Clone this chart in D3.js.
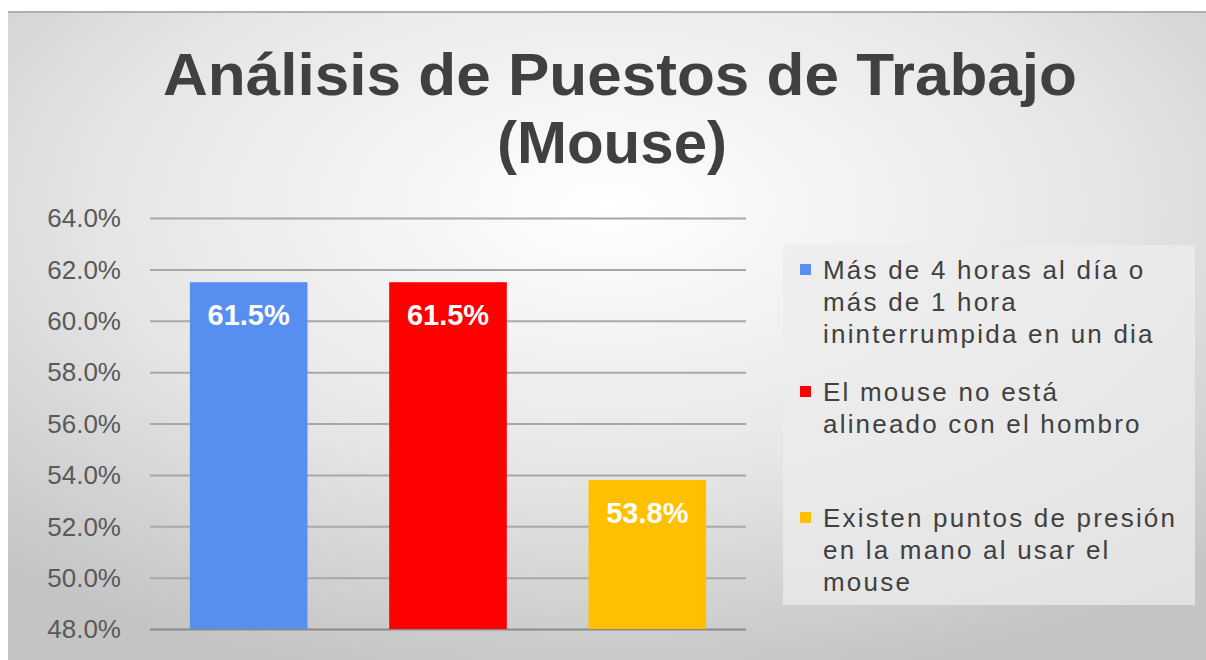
<!DOCTYPE html>
<html>
<head>
<meta charset="utf-8">
<script src="https://cdn.jsdelivr.net/npm/d3@7"></script>
<style>
  body { margin: 0; background: #fff; }
  svg { display: block; font-family: "Liberation Sans", Arial, sans-serif; }
</style>
</head>
<body>
<svg id="chart" width="1206" height="660"></svg>
<script>
const categories = ["Más de 4 horas al día o más de 1 hora ininterrumpida en un dia",
                    "El mouse no está alineado con el hombro",
                    "Existen puntos de presión en la mano al usar el mouse"];
const values = [0.615, 0.615, 0.538];
const colors = ["#568ff0", "#ff0000", "#ffc000"];
const legendLines = [
    ["Más de 4 horas al día o", "más de 1 hora", "ininterrumpida en un dia"],
    ["El mouse no está", "alineado con el hombro"],
    ["Existen puntos de presión", "en la mano al usar el", "mouse"]
];
const yTicks = [0.48, 0.50, 0.52, 0.54, 0.56, 0.58, 0.60, 0.62, 0.64];

const svg = d3.select("#chart");
const W = 1206, H = 660;

// background panel with soft radial gradient
const defs = svg.append("defs");
const grad = defs.append("radialGradient")
    .attr("id", "bg")
    .attr("cx", "50%").attr("cy", "30%").attr("r", "75%");
grad.append("stop").attr("offset", "0%").attr("stop-color", "#ffffff");
grad.append("stop").attr("offset", "55%").attr("stop-color", "#e6e6e6");
grad.append("stop").attr("offset", "100%").attr("stop-color", "#c4c4c4");

svg.append("rect")
    .attr("x", 8).attr("y", 11)
    .attr("width", W - 8).attr("height", H - 11)
    .attr("fill", "url(#bg)");
svg.append("line")
    .attr("x1", 8).attr("x2", W).attr("y1", 12).attr("y2", 12)
    .attr("stroke", "#b0b0b0").attr("stroke-width", 2);

// title
const title = svg.append("text")
    .attr("text-anchor", "middle")
    .attr("font-weight", "bold")
    .attr("font-size", 60)
    .attr("fill", "#404040");
title.append("tspan").attr("x", 620).attr("y", 95)
    .attr("textLength", 914).attr("lengthAdjust", "spacingAndGlyphs")
    .text("Análisis de Puestos de Trabajo");
title.append("tspan").attr("x", 612).attr("y", 163).text("(Mouse)");

const margin = {left: 150, right: 460, top: 218, bottom: 31};
const x = d3.scaleBand()
    .domain(d3.range(categories.length))
    .range([margin.left, W - margin.right])
    .paddingInner(0.41)
    .paddingOuter(0.2);
const y = d3.scaleLinear()
    .domain([0.48, 0.64])
    .range([H - margin.bottom, margin.top]);

// gridlines
const grid = svg.append("g")
    .attr("transform", `translate(${margin.left},0)`)
    .call(d3.axisLeft(y).tickValues(yTicks).tickSize(-(W - margin.right - margin.left)).tickFormat(""));
grid.select(".domain").remove();
grid.selectAll(".tick line")
    .attr("stroke", d => d === 0.48 ? "#8a8a8a" : "#a8a8a8")
    .attr("stroke-width", 2);

// y labels
const yAxis = svg.append("g")
    .attr("transform", "translate(121,0)")
    .call(d3.axisLeft(y).tickValues(yTicks).tickSize(0).tickPadding(0).tickFormat(d3.format(".1%")));
yAxis.select(".domain").remove();
yAxis.selectAll("text")
    .attr("font-size", 26)
    .attr("dy", "0.34em")
    .attr("font-family", "Liberation Sans, Arial, sans-serif")
    .attr("fill", "#595959");

// bars
svg.append("g").selectAll("rect")
    .data(values)
    .join("rect")
    .attr("x", (d, i) => x(i))
    .attr("width", x.bandwidth())
    .attr("y", d => y(d))
    .attr("height", d => y(0.48) - y(d))
    .attr("fill", (d, i) => colors[i]);

// value labels
svg.append("g").selectAll("text")
    .data(values)
    .join("text")
    .attr("x", (d, i) => x(i) + x.bandwidth() / 2)
    .attr("y", d => y(d) + 43)
    .attr("text-anchor", "middle")
    .attr("font-size", 29)
    .attr("font-weight", "bold")
    .attr("fill", "#ffffff")
    .text(d => d3.format(".1%")(d));

// legend
svg.append("rect")
    .attr("x", 783).attr("y", 245)
    .attr("width", 412).attr("height", 360)
    .attr("fill", "#ececec").attr("opacity", 0.75);

const legendTop = [279, 401, 527];
const lg = svg.append("g").selectAll("g")
    .data(legendLines)
    .join("g");
lg.append("rect")
    .attr("x", 800)
    .attr("y", (d, i) => legendTop[i] - 15)
    .attr("width", 11).attr("height", 11)
    .attr("fill", (d, i) => colors[i]);
lg.append("text")
    .attr("font-size", 26)
    .attr("letter-spacing", 2.2)
    .attr("fill", "#404040")
    .each(function (d, i) {
        d3.select(this).selectAll("tspan")
            .data(d)
            .join("tspan")
            .attr("x", 823)
            .attr("y", (t, j) => legendTop[i] + j * 32)
            .text(t => t);
    });
</script>
</body>
</html>
